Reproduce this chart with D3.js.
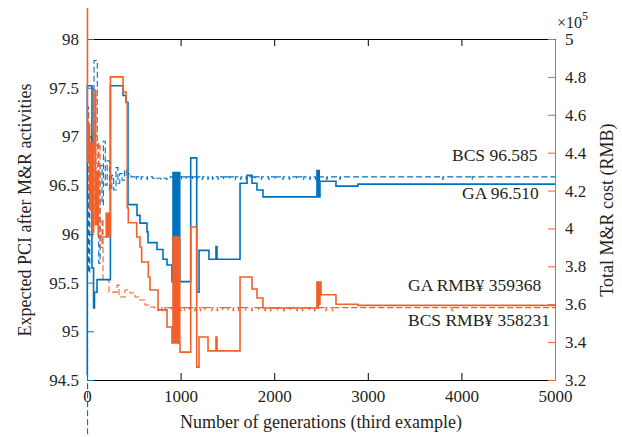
<!DOCTYPE html>
<html>
<head>
<meta charset="utf-8">
<script src="https://cdnjs.cloudflare.com/ajax/libs/d3/7.8.5/d3.min.js"></script>
<style>
  body { margin: 0; background: #fff; }
  svg text { font-family: "Liberation Serif", "Times New Roman", serif; }
</style>
</head>
<body>
<div class="chart"></div>
<script>
const xTicks = [0, 1000, 2000, 3000, 4000, 5000];
const pciTicks = [94.5, 95, 95.5, 96, 96.5, 97, 97.5, 98];
const costTicks = [3.2, 3.4, 3.6, 3.8, 4, 4.2, 4.4, 4.6, 4.8, 5];

// [generation, expected PCI]
const gaPci = [
  [0, 94.55], [3, 97.52], [53, 95.65], [70, 95.24], [80, 95.4], [107, 95.53],
  [250, 97.52], [385, 97.42], [417, 97.35], [438, 96.3], [534, 96.19], [566, 96.11],
  [641, 96.02], [652, 95.91], [748, 95.84], [812, 95.74], [855, 95.68], [908, 95.51],
  [919, 96.63], [927, 95.51], [935, 96.63], [943, 95.51], [951, 96.63], [959, 95.51],
  [967, 96.63], [975, 95.51], [983, 96.63], [991, 95.51],
  [994, 95.51], [1108, 96.78], [1172, 95.4], [1197, 95.83], [1303, 95.74], [1378, 95.87],
  [1389, 95.74], [1635, 96.52], [1710, 96.6], [1763, 96.52], [1816, 96.45], [1880, 96.38],
  [2457, 96.65], [2465, 96.38], [2473, 96.65], [2481, 96.38], [2489, 96.54],
  [2660, 96.49], [2895, 96.51], [5000, 96.51]
];

const bcsPci = [
  [0, 93.95], [6, 97.3], [18, 95.6], [30, 97.0], [45, 96.2], [60, 96.8], [75, 97.78],
  [110, 96.9], [125, 95.7], [140, 96.7], [160, 96.3], [175, 96.95], [195, 96.5],
  [215, 96.75], [240, 96.45], [265, 96.6], [285, 96.45], [310, 96.68], [330, 96.52],
  [350, 96.62], [375, 96.55], [400, 96.66], [420, 96.58], [440, 96.62], [470, 96.585],
  [520, 96.56], [526, 96.585], [575, 96.56], [581, 96.585], [640, 96.56], [646, 96.585],
  [700, 96.57], [730, 96.56], [736, 96.57], [790, 96.56], [796, 96.57], [850, 96.56],
  [856, 96.57], [890, 96.585], [1010, 96.56], [1016, 96.585], [1060, 96.56], [1066, 96.585],
  [1120, 96.56], [1126, 96.585], [1170, 96.56], [1176, 96.585], [1230, 96.56], [1236, 96.585],
  [1290, 96.56], [1296, 96.585], [1340, 96.56], [1346, 96.585], [1400, 96.56], [1406, 96.585],
  [1460, 96.56], [1466, 96.585], [1520, 96.56], [1526, 96.585], [1580, 96.56], [1586, 96.585],
  [1640, 96.56], [1646, 96.585], [1700, 96.56], [1706, 96.585], [1790, 96.56], [1796, 96.585],
  [1860, 96.56], [1866, 96.585], [1940, 96.56], [1946, 96.585], [2010, 96.56], [2016, 96.585],
  [2090, 96.56], [2096, 96.585], [2160, 96.56], [2166, 96.585], [2240, 96.56], [2246, 96.585],
  [2310, 96.56], [2316, 96.585], [2380, 96.56], [2386, 96.585], [2440, 96.56], [2446, 96.585],
  [2560, 96.56], [2566, 96.585], [2700, 96.56], [2706, 96.585], [3800, 96.56], [3806, 96.585],
  [4110, 96.56], [4116, 96.585], [5000, 96.585]
];

// [generation, total cost in 10^5 RMB]
const gaCost = [
  [0, 5.16], [5, 4.35], [15, 4.55], [28, 4.1], [40, 4.45], [55, 3.98], [70, 4.73],
  [90, 4.02], [105, 4.3], [120, 3.96], [150, 3.955], [205, 4.08], [215, 3.955],
  [225, 4.08], [235, 3.96], [250, 4.8], [385, 4.72], [417, 4.667], [430, 4.11],
  [441, 4.03], [531, 3.955], [566, 3.902], [584, 3.823], [655, 3.744], [673, 3.675],
  [759, 3.57], [855, 3.48], [908, 3.395],
  [919, 3.955], [927, 3.395], [935, 3.955], [943, 3.395], [951, 3.955], [959, 3.395],
  [967, 3.955], [975, 3.395], [983, 3.955], [991, 3.395],
  [994, 3.347], [1108, 4.008], [1172, 3.268], [1197, 3.427], [1293, 3.354], [1378, 3.427],
  [1389, 3.354], [1635, 3.744], [1763, 3.68], [1816, 3.633], [1880, 3.58],
  [2457, 3.717], [2465, 3.58], [2473, 3.717], [2481, 3.6], [2489, 3.717], [2500, 3.65],
  [2660, 3.6], [2895, 3.5937], [5000, 3.5937]
];

const bcsCost = [
  [0, 4.5], [6, 4.6], [15, 4.2], [30, 4.4], [45, 4.1], [60, 4.5], [75, 4.05],
  [95, 4.72], [110, 4.15], [125, 4.45], [140, 3.9], [160, 4.05], [171, 3.728],
  [235, 3.664], [321, 3.701], [342, 3.638], [406, 3.675], [459, 3.659], [513, 3.638],
  [566, 3.622], [620, 3.596], [673, 3.585], [720, 3.5823],
  [760, 3.566], [766, 3.5823], [800, 3.566], [806, 3.5823], [840, 3.566], [846, 3.5823],
  [900, 3.566], [906, 3.5823], [1000, 3.566], [1006, 3.5823], [1040, 3.566], [1046, 3.5823],
  [1090, 3.566], [1096, 3.5823], [1150, 3.566], [1156, 3.5823], [1210, 3.566], [1216, 3.5823],
  [1260, 3.566], [1266, 3.5823], [1330, 3.566], [1336, 3.5823], [1390, 3.566], [1396, 3.5823],
  [1450, 3.566], [1456, 3.5823], [1500, 3.566], [1506, 3.5823], [1560, 3.566], [1566, 3.5823],
  [1620, 3.566], [1626, 3.5823], [1690, 3.566], [1696, 3.5823], [1760, 3.566], [1766, 3.5823],
  [1830, 3.566], [1836, 3.5823], [1900, 3.566], [1906, 3.5823], [1960, 3.566], [1966, 3.5823],
  [2030, 3.566], [2036, 3.5823], [2100, 3.566], [2106, 3.5823], [2170, 3.566], [2176, 3.5823],
  [2240, 3.566], [2246, 3.5823], [2300, 3.566], [2306, 3.5823], [2370, 3.566], [2376, 3.5823],
  [2430, 3.566], [2436, 3.5823], [2550, 3.566], [2556, 3.5823], [2620, 3.566], [2626, 3.5823],
  [3900, 3.566], [3906, 3.5823], [5000, 3.5823]
];

function drawChart() {
  const w = 622;
  const h = 437;
  const margin = { top: 39, right: 67, bottom: 57, left: 87 };
  const blue = '#0072bd';
  const orange = '#f2602a';
  const ink = '#231f20';
  const serif = '"Liberation Serif", "Times New Roman", serif';
  const bottomY = h - margin.bottom;
  const rightX = w - margin.right;

  const svg = d3.select('.chart')
    .append('svg')
    .attr('width', w)
    .attr('height', h)
    .attr('font-family', serif);

  const x = d3.scaleLinear().domain([0, 5000]).range([margin.left, rightX]);
  const yPci = d3.scaleLinear().domain([94.5, 98]).range([bottomY, margin.top]);
  const yCost = d3.scaleLinear().domain([3.2, 5]).range([bottomY, margin.top]);

  function styleAxis(g, color) {
    g.attr('font-size', 17).attr('font-family', serif);
    g.selectAll('path, line').attr('stroke', color).attr('stroke-width', 1);
    g.selectAll('text').attr('fill', ink).attr('font-family', serif);
  }

  svg.append('g')
    .attr('transform', `translate(0, ${bottomY})`)
    .call(d3.axisBottom(x).tickValues(xTicks).tickSize(-7).tickSizeOuter(0).tickPadding(10).tickFormat(d3.format('d')))
    .call(g => styleAxis(g, '#000'));

  svg.append('g')
    .attr('transform', `translate(0, ${margin.top})`)
    .call(d3.axisTop(x).tickValues(xTicks).tickSize(-7).tickSizeOuter(0).tickFormat(''))
    .call(g => styleAxis(g, '#000'));

  svg.append('g')
    .attr('transform', `translate(${margin.left}, 0)`)
    .call(d3.axisLeft(yPci).tickValues(pciTicks).tickSize(-7).tickSizeOuter(0).tickPadding(8).tickFormat(d => String(d)))
    .call(g => styleAxis(g, blue));

  svg.append('g')
    .attr('transform', `translate(${rightX}, 0)`)
    .call(d3.axisRight(yCost).tickValues(costTicks).tickSize(-7).tickSizeOuter(0).tickPadding(10).tickFormat(d => String(d)))
    .call(g => styleAxis(g, orange));

  const pciLine = d3.line()
    .x(d => x(d[0]))
    .y(d => yPci(d[1]))
    .curve(d3.curveStepAfter);

  const costLine = d3.line()
    .x(d => x(d[0]))
    .y(d => yCost(d[1]))
    .curve(d3.curveStepAfter);

  svg.append('path')
    .datum(bcsPci)
    .attr('fill', 'none')
    .attr('stroke', blue)
    .attr('stroke-width', 1.1)
    .attr('stroke-dasharray', '6,3')
    .attr('d', pciLine);

  svg.append('path')
    .datum(bcsCost)
    .attr('fill', 'none')
    .attr('stroke', orange)
    .attr('stroke-width', 1.1)
    .attr('stroke-dasharray', '6,3')
    .attr('d', costLine);

  svg.append('path')
    .datum(gaPci)
    .attr('fill', 'none')
    .attr('stroke', blue)
    .attr('stroke-width', 1.6)
    .attr('d', pciLine);

  svg.append('path')
    .datum(gaCost)
    .attr('fill', 'none')
    .attr('stroke', orange)
    .attr('stroke-width', 1.6)
    .attr('d', costLine);

  // scale factor above the right axis
  const mult = svg.append('text')
    .attr('x', 557)
    .attr('y', 28)
    .attr('font-size', 16)
    .attr('fill', ink);
  mult.append('tspan').text('×10');
  mult.append('tspan').attr('dy', -8).attr('font-size', 12).text('5');

  const notes = [
    { text: 'BCS 96.585', x: 452, y: 161 },
    { text: 'GA 96.510', x: 462, y: 199 },
    { text: 'GA RMB¥ 359368', x: 408, y: 291 },
    { text: 'BCS RMB¥ 358231', x: 408, y: 326 }
  ];
  svg.selectAll('.note')
    .data(notes)
    .enter()
    .append('text')
    .attr('class', 'note')
    .attr('x', d => d.x)
    .attr('y', d => d.y)
    .attr('font-size', 17.5)
    .attr('fill', ink)
    .text(d => d.text);

  svg.append('text')
    .attr('transform', `translate(31, 210) rotate(-90)`)
    .attr('text-anchor', 'middle')
    .attr('font-size', 18)
    .attr('fill', ink)
    .text('Expected PCI after M&R activities');

  svg.append('text')
    .attr('transform', `translate(613, 210) rotate(-90)`)
    .attr('text-anchor', 'middle')
    .attr('font-size', 18)
    .attr('fill', ink)
    .text('Total M&R cost (RMB)');

  svg.append('text')
    .attr('x', 321)
    .attr('y', 428)
    .attr('text-anchor', 'middle')
    .attr('font-size', 18)
    .attr('fill', ink)
    .text('Number of generations (third example)');
}

drawChart();
</script>
</body>
</html>
